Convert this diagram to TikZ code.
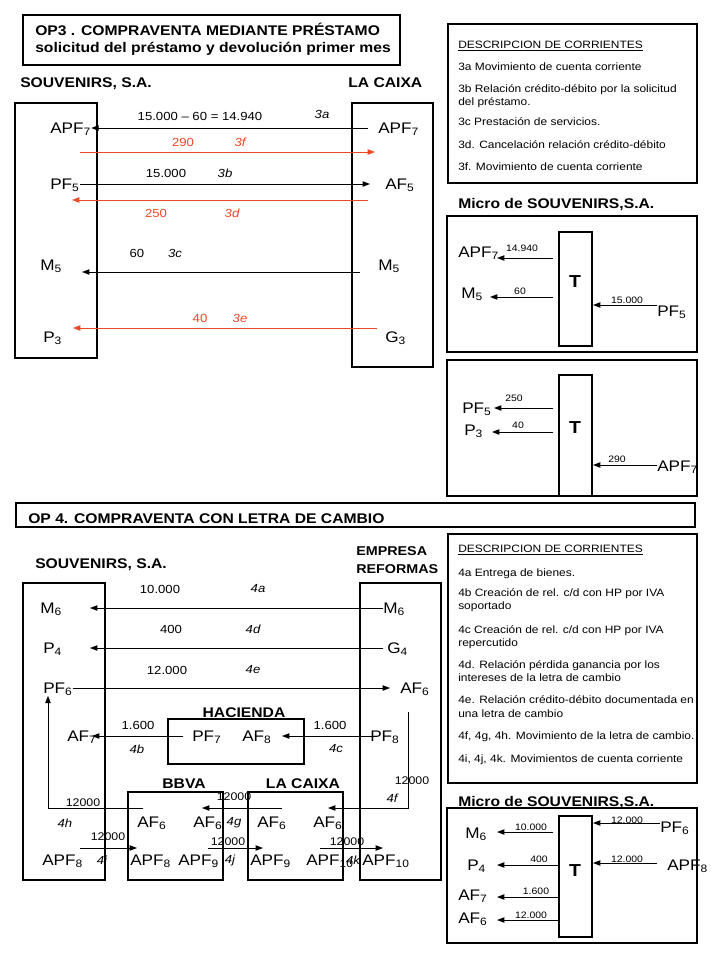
\documentclass[tikz,border=0pt]{standalone}
\usepackage{fontspec}
\setmainfont{Liberation Sans}[FakeStretch=1.12]
\usetikzlibrary{arrows.meta}
\definecolor{rd}{RGB}{236,72,36}
\newcommand\sbs[1]{\textsubscript{#1}}
\tikzset{
 bx/.style={draw, line width=1.6pt},
 arr/.style={line width=0.7pt, -{Triangle[length=5.5pt,width=4pt]}},
 lab/.style={inner sep=0pt, anchor=base west, font=\fontsize{11.5}{13}\selectfont},
 num/.style={inner sep=0pt, font=\fontsize{8.8}{10}\selectfont},
 numb/.style={inner sep=0pt, font=\fontsize{8.3}{10}\selectfont},
 itl/.style={inner sep=0pt, font=\fontsize{8.8}{10}\selectfont\itshape},
 hd/.style={inner sep=0pt, anchor=base west, font=\fontsize{10.5}{12}\selectfont\bfseries},
 ttl/.style={inner sep=0pt, anchor=base west, font=\fontsize{10.5}{12}\selectfont\bfseries},
 desc/.style={inner sep=0pt, anchor=base west, font=\fontsize{8}{9.5}\selectfont},
 sml/.style={inner sep=0pt, font=\fontsize{7}{8}\selectfont},
 tee/.style={inner sep=0pt, font=\fontsize{13}{14}\selectfont\bfseries},
}
\begin{document}
\begin{tikzpicture}[x=0.75pt,y=-0.75pt]
\useasboundingbox (0,0) rectangle (720,960);
\fill[white] (0,0) rectangle (720,960);

% ================= OP3 =================
\draw[bx] (23,15) rectangle (400,65);
\node[ttl] (t3a) at (35,36) {OP3 . COMPRAVENTA MEDIANTE PRÉSTAMO};
\node[ttl] (t3b) at (35,52) {solicitud del préstamo y devolución primer mes};
\node[hd] (h3s) at (20,87) {SOUVENIRS, S.A.};
\node[hd] (h3c) at (348,87) {LA CAIXA};
\draw[bx] (15,103) rectangle (97,358);
\draw[bx] (352,103) rectangle (433,367);

\node[lab] (lAPF7) at (50,133) {APF\sbs{7}};
\node[lab] (rAPF7) at (378,133) {APF\sbs{7}};
\node[lab] (lPF5) at (50,189) {PF\sbs{5}};
\node[lab] (rAF5) at (385,189) {AF\sbs{5}};
\node[lab] (lM5) at (40,270) {M\sbs{5}};
\node[lab] (rM5) at (378,270) {M\sbs{5}};
\node[lab] (lP3) at (43,342) {P\sbs{3}};
\node[lab] (rG3) at (385,342) {G\sbs{3}};

\draw[arr] (368,128) -- (lAPF7.east |- 0,128);
\draw[arr, rd] (80,152) -- (375,152);
\draw[arr] (lPF5.east |- 0,184) -- (370,184);
\draw[arr, rd] (368,200) -- (72,200);
\draw[arr] (360,272) -- (82,272);
\draw[arr, rd] (377,328) -- (73,328);

\node[num] (n3a) at (200,116) {15.000 – 60 = 14.940};
\node[itl] (i3a) at (322,114) {3a};
\node[num, rd] (n3f) at (183,142) {290};
\node[itl, rd] (i3f) at (240,142) {3f};
\node[num] (n3b) at (166,173) {15.000};
\node[itl] (i3b) at (225,173) {3b};
\node[num, rd] (n3d) at (156,213) {250};
\node[itl, rd] (i3d) at (232,213) {3d};
\node[num] (n3c) at (137,253) {60};
\node[itl] (i3c) at (175,253) {3c};
\node[num, rd] (n3e) at (200,318) {40};
\node[itl, rd] (i3e) at (240,318) {3e};

% description 1
\draw[bx] (448,24) rectangle (697,183);
\node[desc] (d3h) at (458,48) {\underline{DESCRIPCION DE CORRIENTES}};
\node[desc] (d3a) at (458,70) {3a Movimiento de cuenta corriente};
\node[desc] (d3b) at (458,92) {3b Relación crédito-débito por la solicitud};
\node[desc] (d3b2) at (458,105) {del préstamo.};
\node[desc] (d3c) at (458,125) {3c Prestación de servicios.};
\node[desc] (d3d) at (458,148) {3d. Cancelación relación crédito-débito};
\node[desc] (d3f) at (458,170) {3f. Movimiento de cuenta corriente};

% micro 1
\node[ttl] (m1h) at (458,208) {Micro de SOUVENIRS,S.A.};
\draw[bx] (447,216) rectangle (697,352);
\draw[bx] (559,232) rectangle (592,346);
\node[tee] (T1) at (575,282) {T};
\node[lab] (mAPF7) at (458,257) {APF\sbs{7}};
\draw[arr] (553,258) -- (497,258);
\node[sml] (s1a) at (522,248) {14.940};
\node[lab] (mM5) at (461,298) {M\sbs{5}};
\draw[arr] (553,297) -- (490,297);
\node[sml] (s1b) at (520,291) {60};
\node[lab] (mPF5) at (657,316) {PF\sbs{5}};
\draw[arr] (mPF5.west |- 0,305) -- (593,305);
\node[sml] (s1c) at (627,300) {15.000};

% micro 2
\draw[bx] (447,360) rectangle (697,496);
\draw[bx] (559,375) rectangle (592,496);
\node[tee] (T2) at (575,428) {T};
\node[lab] (mPF5b) at (462,413) {PF\sbs{5}};
\draw[arr] (553,408) -- (494,408);
\node[sml] (s2a) at (514,398) {250};
\node[lab] (mP3) at (464,435) {P\sbs{3}};
\draw[arr] (553,432) -- (492,432);
\node[sml] (s2b) at (518,425) {40};
\node[lab] (mAPF7b) at (657,471) {APF\sbs{7}};
\draw[arr] (mAPF7b.west |- 0,465) -- (593,465);
\node[sml] (s2c) at (617,459) {290};

% ================= OP4 =================
\draw[bx] (16,503) rectangle (695,527);
\node[ttl] (t4) at (28,523) {OP 4. COMPRAVENTA CON LETRA DE CAMBIO};
\node[hd] (h4s) at (35,568) {SOUVENIRS, S.A.};
\node[hd, font=\fontsize{9.6}{11}\selectfont\bfseries] (h4e) at (356,555) {EMPRESA};
\node[hd, font=\fontsize{9.6}{11}\selectfont\bfseries] (h4r) at (356,573) {REFORMAS};
\draw[bx] (23,583) rectangle (105,880);
\draw[bx] (360,583) rectangle (441,880);

\node[lab] (lM6) at (40,613) {M\sbs{6}};
\node[lab] (rM6) at (383,613) {M\sbs{6}};
\node[lab] (lP4) at (43,653) {P\sbs{4}};
\node[lab] (rG4) at (387,653) {G\sbs{4}};
\node[lab] (lPF6) at (43,693) {PF\sbs{6}};
\node[lab] (rAF6) at (400,693) {AF\sbs{6}};

\draw[arr] (rM6.west |- 0,608) -- (90,608);
\draw[arr] (383,648) -- (90,648);
\draw[arr] (lPF6.east |- 0,688) -- (390,688);
\node[num] (n4a) at (160,589) {10.000}; \node[itl] (i4a) at (258,589) {4a};
\node[num] (n4d) at (171,629) {400};    \node[itl] (i4d) at (253,629) {4d};
\node[num] (n4e) at (167,670) {12.000}; \node[itl] (i4e) at (253,670) {4e};

% Hacienda
\draw[bx] (168,719) rectangle (304,764);
\node[hd, anchor=base] (hH) at (244,717) {HACIENDA};
\node[lab] (hPF7) at (192,741) {PF\sbs{7}};
\node[lab] (hAF8) at (242,741) {AF\sbs{8}};
\node[lab] (lAF7) at (67,741) {AF\sbs{7}};
\node[lab] (rPF8) at (370,741) {PF\sbs{8}};
\draw[arr] (183,736) -- (92,736);
\draw[arr] (377,736) -- (282,736);
\node[num] (n4b) at (138,725) {1.600}; \node[itl] (i4b) at (137,749) {4b};
\node[num] (n4c) at (330,725) {1.600}; \node[itl] (i4c) at (336,749) {4c};

% banks
\node[hd, anchor=base] (hB) at (184,788) {BBVA};
\node[hd, anchor=base] (hLC) at (303,788) {LA CAIXA};
\draw[bx] (128,792) rectangle (223,880);
\draw[bx] (248,792) rectangle (343,880);
\node[lab] (bAF6a) at (137,827) {AF\sbs{6}};
\node[lab] (bAF6b) at (193,827) {AF\sbs{6}};
\node[lab] (cAF6a) at (257,827) {AF\sbs{6}};
\node[lab] (cAF6b) at (313,827) {AF\sbs{6}};
\node[lab] (bAPF8) at (130,865) {APF\sbs{8}};
\node[lab] (bAPF9) at (178,865) {APF\sbs{9}};
\node[lab] (cAPF9) at (250,865) {APF\sbs{9}};
\node[lab] (cAPF10) at (306,865) {APF\sbs{10}};
\node[lab] (rAPF10) at (362,865) {APF\sbs{10}};
\node[lab] (lAPF8) at (42,865) {APF\sbs{8}};

% letter movements
\draw[arr] (408,712) -- (408,808) -- (328,808);
\node[numb] (n4f) at (412,781) {12000}; \node[itl] (i4f) at (392,798) {4f};
\draw[arr] (282,808) -- (202,808);
\node[numb] (n4g) at (234,797) {12000}; \node[itl] (i4g) at (234,823) {4g};
\draw[arr] (143,808) -- (48,808) -- (lPF6.south -| 48,0);
\node[numb] (n4h) at (83,803) {12000}; \node[itl] (i4h) at (65,823) {4h};

% current account movements
\draw[arr] (80,848) -- (137,848);
\node[numb] (n4i) at (108,837) {12000}; \node[itl] (i4i) at (102,860) {4i};
\draw[arr] (208,848) -- (263,848);
\node[numb] (n4j) at (228,842) {12000}; \node[itl] (i4j) at (230,860) {4j};
\draw[arr] (320,848) -- (383,848);
\node[numb] (n4k) at (347,842) {12000}; \node[itl] (i4k) at (353,860) {4k};

% description 2
\draw[bx] (448,534) rectangle (697,783);
\node[desc] (d4h) at (458,552) {\underline{DESCRIPCION DE CORRIENTES}};
\node[desc] (d4a) at (458,576) {4a Entrega de bienes.};
\node[desc] (d4b) at (458,596) {4b Creación de rel. c/d con HP por IVA};
\node[desc] (d4b2) at (458,609) {soportado};
\node[desc] (d4c) at (458,633) {4c Creación de rel. c/d con HP por IVA};
\node[desc] (d4c2) at (458,646) {repercutido};
\node[desc] (d4d) at (458,668) {4d. Relación pérdida ganancia por los};
\node[desc] (d4d2) at (458,681) {intereses de la letra de cambio};
\node[desc] (d4e) at (458,703) {4e. Relación crédito-débito documentada en};
\node[desc] (d4e2) at (458,717) {una letra de cambio};
\node[desc] (d4f) at (458,739) {4f, 4g, 4h. Movimiento de la letra de cambio.};
\node[desc] (d4i) at (458,762) {4i, 4j, 4k. Movimientos de cuenta corriente};

% micro 3
\node[ttl] (m3h) at (458,806) {Micro de SOUVENIRS,S.A.};
\draw[bx] (447,808) rectangle (697,943);
\draw[bx] (559,816) rectangle (592,937);
\node[tee] (T3) at (575,871) {T};
\node[lab] (mM6) at (465,838) {M\sbs{6}};
\draw[arr] (553,832) -- (497,832);
\node[sml] (s3a) at (531,827) {10.000};
\node[lab] (mP4) at (467,870) {P\sbs{4}};
\draw[arr] (559,865) -- (497,865);
\node[sml] (s3b) at (539,859) {400};
\node[lab] (mAF7) at (458,900) {AF\sbs{7}};
\draw[arr] (559,897) -- (497,897);
\node[sml] (s3c) at (536,891) {1.600};
\node[lab] (mAF6) at (458,923) {AF\sbs{6}};
\draw[arr] (559,920) -- (497,920);
\node[sml] (s3d) at (531,915) {12.000};
\node[lab] (mPF6) at (660,832) {PF\sbs{6}};
\draw[arr] (mPF6.west |- 0,823) -- (593,823);
\node[sml] (s3e) at (627,820) {12.000};
\node[lab] (mAPF8) at (667,870) {APF\sbs{8}};
\draw[arr] (657,863) -- (593,863);
\node[sml] (s3f) at (627,859) {12.000};
\end{tikzpicture}
\end{document}
